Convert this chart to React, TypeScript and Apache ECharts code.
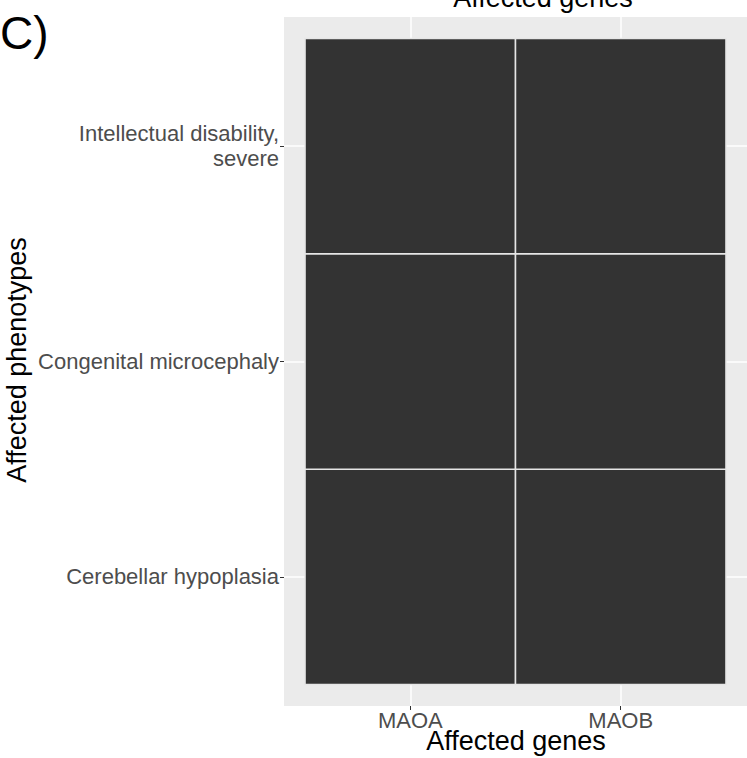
import React, { useEffect, useRef } from "react";
import * as echarts from "echarts";

const genes = ["MAOA", "MAOB"];
const phenotypes = [
  "Cerebellar hypoplasia",
  "Congenital microcephaly",
  "Intellectual disability,\nsevere",
];
// [geneIndex, phenotypeIndex, value]
const tiles: [number, number, number][] = [
  [0, 0, 1],
  [1, 0, 1],
  [0, 1, 1],
  [1, 1, 1],
  [0, 2, 1],
  [1, 2, 1],
];
const xTicks = [1, 2];
const yTicks = [1, 2, 3];

const FONT = "'Liberation Sans', Arial, Helvetica, sans-serif";

export default function App() {
  const ref = useRef<HTMLDivElement>(null);
  useEffect(() => {
    document.body.style.margin = "0";
    if (!ref.current) return;
    const chart = echarts.init(ref.current, null, { renderer: "svg" });
    const option: any = {
      animation: false,
      backgroundColor: "#FFFFFF",
      grid: {
        left: 284,
        right: 0,
        top: 17,
        bottom: 52,
        show: true,
        backgroundColor: "#EBEBEB",
        borderWidth: 0,
        containLabel: false,
      },
      xAxis: {
        type: "value",
        min: 0.4,
        max: 2.6,
        axisLine: { show: false },
        axisTick: {
          show: true,
          length: 4,
          customValues: xTicks,
          lineStyle: { color: "#333333", width: 1 },
        },
        axisLabel: {
          show: true,
          customValues: xTicks,
          margin: 3,
          color: "#4D4D4D",
          fontSize: 22,
          fontFamily: FONT,
          formatter: (v: number) => genes[Math.round(v) - 1] ?? "",
        },
        splitLine: { show: true, lineStyle: { color: "#FFFFFF", width: 1.5 } },
      },
      yAxis: {
        type: "value",
        min: 0.4,
        max: 3.6,
        axisLine: { show: false },
        axisTick: {
          show: true,
          length: 4,
          customValues: yTicks,
          lineStyle: { color: "#333333", width: 1 },
        },
        axisLabel: {
          show: true,
          customValues: yTicks,
          margin: 5,
          color: "#4D4D4D",
          fontSize: 22,
          lineHeight: 25,
          align: "right",
          fontFamily: FONT,
          formatter: (v: number) => phenotypes[Math.round(v) - 1] ?? "",
        },
        splitLine: { show: true, lineStyle: { color: "#FFFFFF", width: 1.5 } },
      },
      series: [
        {
          type: "custom",
          coordinateSystem: "cartesian2d",
          data: tiles.map((t) => [t[0] + 1, t[1] + 1, t[2]]),
          renderItem: (params: any, api: any) => {
            const x = api.value(0);
            const y = api.value(1);
            const p0 = api.coord([x - 0.5, y + 0.5]);
            const p1 = api.coord([x + 0.5, y - 0.5]);
            return {
              type: "rect",
              shape: {
                x: p0[0],
                y: p0[1],
                width: p1[0] - p0[0],
                height: p1[1] - p0[1],
              },
              style: {
                fill: api.value(2) > 0 ? "#333333" : "#EBEBEB",
                stroke: "#E6E6E6",
                lineWidth: 1.5,
              },
            };
          },
        },
      ],
      graphic: [
        {
          type: "text",
          x: 543,
          y: -2,
          style: {
            text: "Affected genes",
            fontSize: 27,
            fontFamily: FONT,
            fill: "#000000",
            align: "center",
            verticalAlign: "middle",
          },
        },
        {
          type: "text",
          x: 0,
          y: 33,
          style: {
            text: "C)",
            fontSize: 46,
            fontFamily: FONT,
            fill: "#000000",
            align: "left",
            verticalAlign: "middle",
          },
        },
        {
          type: "text",
          x: 516,
          y: 741,
          style: {
            text: "Affected genes",
            fontSize: 27,
            fontFamily: FONT,
            fill: "#000000",
            align: "center",
            verticalAlign: "middle",
          },
        },
        {
          type: "text",
          x: 17,
          y: 360,
          rotation: Math.PI / 2,
          style: {
            text: "Affected phenotypes",
            fontSize: 27,
            fontFamily: FONT,
            fill: "#000000",
            align: "center",
            verticalAlign: "middle",
          },
        },
      ],
    };
    chart.setOption(option);
    return () => chart.dispose();
  }, []);
  return (
    <div
      ref={ref}
      style={{ position: "absolute", left: 0, top: 0, width: 747, height: 758 }}
    />
  );
}
